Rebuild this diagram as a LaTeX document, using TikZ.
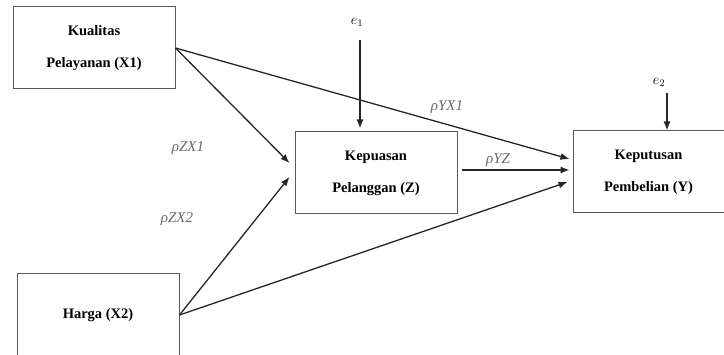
\documentclass[tikz,border=0pt]{standalone}
\usepackage{fontspec}
\setmainfont{Liberation Serif}
\usetikzlibrary{arrows.meta}
\definecolor{lblgray}{RGB}{105,105,105}
\definecolor{boxgray}{RGB}{90,90,90}
\begin{document}
\begin{tikzpicture}[x=1pt,y=-1pt,
  varbox/.style={draw=boxgray, line width=1pt, minimum width=162pt, minimum height=82pt, inner sep=0pt, align=center, font=\fontsize{14.5}{32}\selectfont\bfseries},
  conn/.style={line width=1.3pt, draw=black!85, -{Latex[length=9pt,width=7pt]}},
  coef/.style={text=lblgray, font=\fontsize{15}{18}\selectfont\itshape, inner sep=0pt},
  errlbl/.style={font=\fontsize{14}{16}\selectfont, inner sep=0pt}]
\useasboundingbox (0,0) rectangle (724,355);
\node[varbox] (x1) at (94,48) {Kualitas\\Pelayanan (X1)};
\node[varbox] (z) at (376,173) {Kepuasan\\Pelanggan (Z)};
\node[varbox, minimum width=151pt] (y) at (648.5,172) {Keputusan\\Pembelian (Y)};
\node[varbox] (x2) at (98,315) {Harga (X2)};
\node[errlbl] (e1) at (357,22) {$e_1$};
\node[errlbl] (e2) at (659,82) {$e_2$};
\coordinate (e1s) at (360,40);
\coordinate (e2s) at (667,93);
\node[coef] (lyx1) at (447,107) {ρYX1};
\node[coef] (lyz) at (498,160) {ρYZ};
\node[coef] (lzx1) at (188,148) {ρZX1};
\node[coef] (lzx2) at (177,219) {ρZX2};
\draw[conn] (x1.east) -- ([xshift=-5pt,yshift=10pt]z.west);
\draw[conn] (x1.east) -- ([xshift=-3pt,yshift=13pt]y.west);
\draw[conn] ([xshift=4pt,yshift=3pt]z.east) -- ([xshift=-3pt,yshift=2pt]y.west);
\draw[conn] (x2.east) -- ([xshift=-5pt,yshift=-4pt]z.west);
\draw[conn] (x2.east) -- ([xshift=-5pt,yshift=-10pt]y.west);
\draw[conn] (e1s) -- ([yshift=3pt]e1s |- z.north);
\draw[conn] (e2s) -- (e2s |- y.north);
\end{tikzpicture}
\end{document}
